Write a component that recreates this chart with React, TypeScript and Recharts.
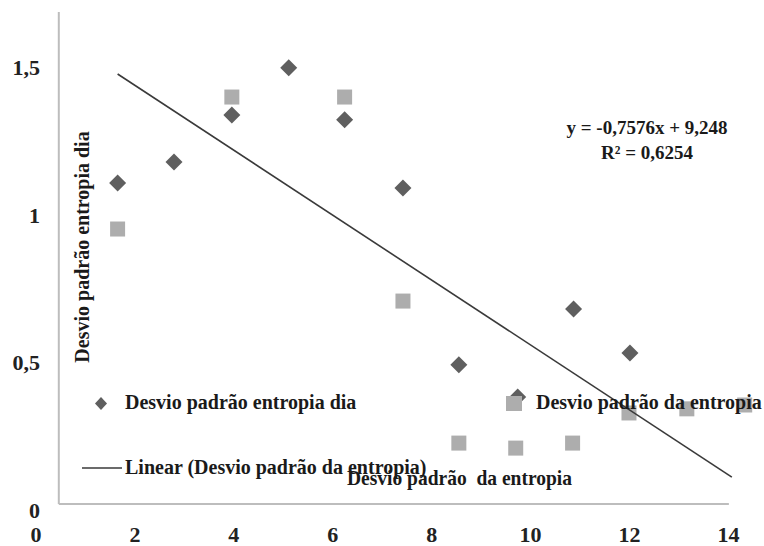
import React from 'react';
import { ScatterChart, Scatter, XAxis, YAxis, ReferenceLine } from 'recharts';

// values
const diamondX = [1.65, 2.79, 3.96, 5.11, 6.24, 7.42, 8.55, 9.74, 10.87, 12.01];
const diamondY = [1.111, 1.182, 1.341, 1.501, 1.325, 1.094, 0.495, 0.386, 0.684, 0.535];

const squareX = [1.65, 3.96, 6.24, 7.42, 8.55, 9.7, 10.85, 11.99, 13.16, 14.33];
const squareY = [0.955, 1.402, 1.402, 0.711, 0.23, 0.213, 0.23, 0.332, 0.346, 0.359];

const trendX = [1.65, 14.07];
const trendY = [1.48, 0.115];

const xTicks = [0, 2, 4, 6, 8, 10, 12, 14];
const yTicks = [0, 0.5, 1, 1.5];

const diamondData = diamondX.map((x, i) => ({ x, y: diamondY[i] }));
const squareData = squareX.map((x, i) => ({ x, y: squareY[i] }));
const trendData = trendX.map((x, i) => ({ x, y: trendY[i] }));

const FONT = '"Liberation Serif", "Times New Roman", serif';
const DARK = '#5f5f5f';
const LIGHT = '#adadad';
const AXIS = '#bdbdbd';

const Diamond = ({ cx, cy, r = 8.5 }: any) => (
  <polygon points={`${cx},${cy - r} ${cx + r},${cy} ${cx},${cy + r} ${cx - r},${cy}`} fill={DARK} />
);

const Square = ({ cx, cy, s = 15 }: any) => (
  <rect x={cx - s / 2} y={cy - s / 2} width={s} height={s} fill={LIGHT} />
);

const fmt = (v: number) => String(v).replace('.', ',');

const XTick = ({ x, y, payload }: any) => (
  <text x={x} y={y} dy={31} textAnchor="middle" fontFamily={FONT} fontWeight="bold" fontSize={22} fill="#222">
    {fmt(payload.value)}
  </text>
);

const YTick = ({ x, y, payload }: any) => (
  <text x={x + 4} y={y} dy={7} textAnchor="end" fontFamily={FONT} fontWeight="bold" fontSize={22} fill="#222">
    {fmt(payload.value)}
  </text>
);

export default function App() {
  const txt = { fontFamily: FONT, fontWeight: 'bold' as const, fontSize: 20, fill: '#1a1a1a' };
  return (
    <div style={{ position: 'absolute', left: 0, top: 0, width: 764, height: 546, background: '#fff' }}>
      <ScatterChart width={764} height={546} margin={{ top: 12, right: 1, bottom: 0, left: 0 }}>
        <XAxis
          type="number"
          dataKey="x"
          domain={[0, 14.7]}
          ticks={xTicks}
          axisLine={false}
          tickLine={false}
          tickSize={0}
          tickMargin={0}
          height={35}
          tick={<XTick />}
        />
        <YAxis
          type="number"
          dataKey="y"
          domain={[0, 1.69]}
          ticks={yTicks}
          axisLine={false}
          tickLine={false}
          tickSize={0}
          tickMargin={0}
          width={36}
          tick={<YTick />}
        />
        <ReferenceLine segment={[{ x: 0.461, y: 0.0237 }, { x: 0.461, y: 1.69 }]} stroke={AXIS} strokeWidth={2} />
        <ReferenceLine segment={[{ x: 0.461, y: 0.0237 }, { x: 14.01, y: 0.0237 }]} stroke={AXIS} strokeWidth={2} />
        <Scatter data={squareData} fill={LIGHT} shape={<Square />} isAnimationActive={false} />
        <Scatter data={diamondData} fill={DARK} shape={<Diamond />} isAnimationActive={false} />
        <Scatter
          data={trendData}
          line={{ stroke: '#3a3a3a', strokeWidth: 1.6 }}
          shape={() => <g />}
          isAnimationActive={false}
        />
      </ScatterChart>

      <svg width={764} height={546} style={{ position: 'absolute', left: 0, top: 0, pointerEvents: 'none' }}>
        {/* axis title */}
        <text transform="translate(89,247) rotate(-90)" textAnchor="middle" {...txt}>
          Desvio padrão entropia dia
        </text>
        <text x={347} y={485} textLength={225} lengthAdjust="spacingAndGlyphs" style={{ whiteSpace: 'pre' }} {...txt} fontSize={21}>
          Desvio padrão  da entropia
        </text>

        {/* legend */}
        <polygon points="101,397 107,403.5 101,410 95,403.5" fill={DARK} />
        <text x={125} y={409} {...txt}>Desvio padrão entropia dia</text>
        <rect x={506} y={396} width={16} height={15} fill={LIGHT} />
        <text x={536} y={409} {...txt}>Desvio padrão da entropia</text>
        <line x1={82} y1={468} x2={122} y2={468} stroke="#3a3a3a" strokeWidth={1.6} />
        <text x={125} y={474} {...txt}>Linear (Desvio padrão da entropia)</text>

        {/* trend equation */}
        <text x={647} y={134} textAnchor="middle" {...txt} fontSize={19}>y = -0,7576x + 9,248</text>
        <text x={647} y={159} textAnchor="middle" {...txt} fontSize={19}>R² = 0,6254</text>
      </svg>
    </div>
  );
}
